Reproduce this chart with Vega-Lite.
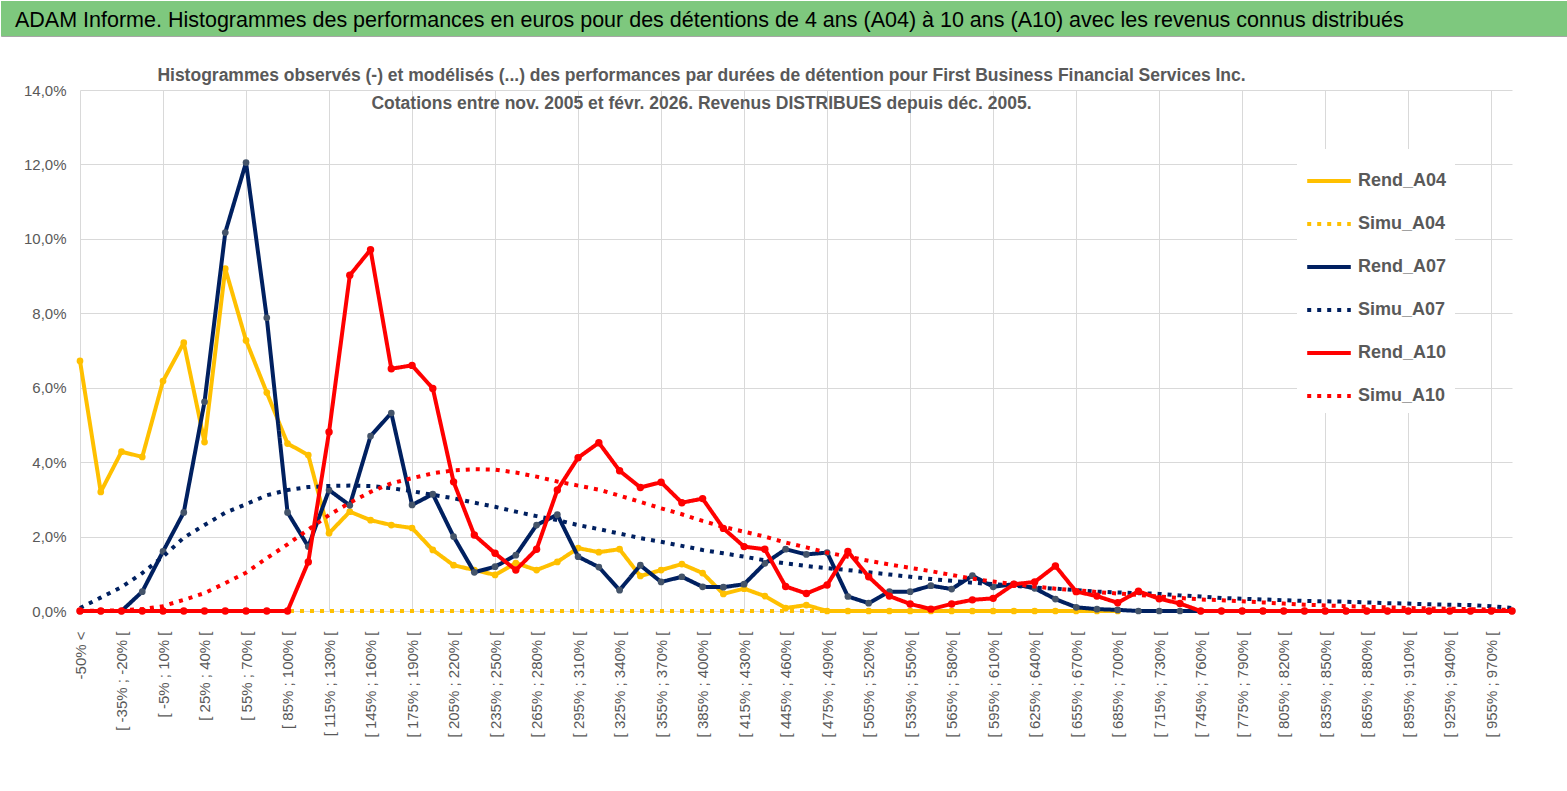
{
  "$schema": "https://vega.github.io/schema/vega-lite/v6.json",
  "padding": 0,
  "background": "white",
  "spacing": 29,
  "config": {
    "font": "Liberation Sans, sans-serif",
    "view": {"stroke": null}
  },
  "vconcat": [
    {
      "width": 1567,
      "height": 35,
      "view": {"fill": "#7EC87E", "stroke": "#A6A6A6"},
      "title": {
        "text": "ADAM Informe. Histogrammes des performances en euros pour des détentions de 4 ans (A04) à 10 ans (A10) avec les revenus connus distribués",
        "anchor": "start",
        "frame": "group",
        "offset": -30,
        "dx": 14,
        "fontSize": 21.5,
        "fontWeight": "normal",
        "color": "#000000"
      },
      "data": {"values": [{"bande": "titre"}]},
      "mark": {"type": "rect", "color": "#7EC87E"},
      "encoding": {}
    },
    {
      "width": 1567,
      "height": 521,
      "title": {
        "text": [
          "Histogrammes observés (-) et modélisés (...) des performances par durées de détention pour First Business Financial Services Inc.",
          "Cotations entre nov. 2005 et févr. 2026. Revenus DISTRIBUES depuis déc. 2005."
        ],
        "fontSize": 17.5,
        "fontWeight": "bold",
        "color": "#595959",
        "lineHeight": 28,
        "anchor": "middle",
        "dx": -83,
        "offset": -29
      },
      "data": {
        "values": [
          {"c": "-50% <", "Rend_A04": 6.72, "Simu_A04": 0, "Rend_A07": 0, "Simu_A07": 0.08, "Rend_A10": 0, "Simu_A10": 0},
          {"c": "[ -50% ; -35% [", "Rend_A04": 3.2, "Simu_A04": 0, "Rend_A07": 0, "Simu_A07": 0.36, "Rend_A10": 0, "Simu_A10": 0.01},
          {"c": "[ -35% ; -20% [", "Rend_A04": 4.28, "Simu_A04": 0, "Rend_A07": 0, "Simu_A07": 0.64, "Rend_A10": 0, "Simu_A10": 0.02},
          {"c": "[ -20% ; -5% [", "Rend_A04": 4.14, "Simu_A04": 0, "Rend_A07": 0.52, "Simu_A07": 1.02, "Rend_A10": 0, "Simu_A10": 0.05},
          {"c": "[ -5% ; 10% [", "Rend_A04": 6.18, "Simu_A04": 0, "Rend_A07": 1.6, "Simu_A07": 1.46, "Rend_A10": 0, "Simu_A10": 0.13},
          {"c": "[ 10% ; 25% [", "Rend_A04": 7.21, "Simu_A04": 0, "Rend_A07": 2.65, "Simu_A07": 1.97, "Rend_A10": 0, "Simu_A10": 0.3},
          {"c": "[ 25% ; 40% [", "Rend_A04": 4.54, "Simu_A04": 0, "Rend_A07": 5.62, "Simu_A07": 2.31, "Rend_A10": 0, "Simu_A10": 0.48},
          {"c": "[ 40% ; 55% [", "Rend_A04": 9.2, "Simu_A04": 0, "Rend_A07": 10.17, "Simu_A07": 2.64, "Rend_A10": 0, "Simu_A10": 0.75},
          {"c": "[ 55% ; 70% [", "Rend_A04": 7.27, "Simu_A04": 0, "Rend_A07": 12.05, "Simu_A07": 2.87, "Rend_A10": 0, "Simu_A10": 1.03},
          {"c": "[ 70% ; 85% [", "Rend_A04": 5.87, "Simu_A04": 0, "Rend_A07": 7.88, "Simu_A07": 3.11, "Rend_A10": 0, "Simu_A10": 1.42},
          {"c": "[ 85% ; 100% [", "Rend_A04": 4.5, "Simu_A04": 0, "Rend_A07": 2.65, "Simu_A07": 3.25, "Rend_A10": 0, "Simu_A10": 1.79},
          {"c": "[ 100% ; 115% [", "Rend_A04": 4.19, "Simu_A04": 0, "Rend_A07": 1.73, "Simu_A07": 3.33, "Rend_A10": 1.32, "Simu_A10": 2.19},
          {"c": "[ 115% ; 130% [", "Rend_A04": 2.09, "Simu_A04": 0, "Rend_A07": 3.25, "Simu_A07": 3.36, "Rend_A10": 4.81, "Simu_A10": 2.58},
          {"c": "[ 130% ; 145% [", "Rend_A04": 2.67, "Simu_A04": 0, "Rend_A07": 2.84, "Simu_A07": 3.37, "Rend_A10": 9.02, "Simu_A10": 2.91},
          {"c": "[ 145% ; 160% [", "Rend_A04": 2.44, "Simu_A04": 0, "Rend_A07": 4.7, "Simu_A07": 3.36, "Rend_A10": 9.71, "Simu_A10": 3.2},
          {"c": "[ 160% ; 175% [", "Rend_A04": 2.31, "Simu_A04": 0, "Rend_A07": 5.32, "Simu_A07": 3.3, "Rend_A10": 6.51, "Simu_A10": 3.43},
          {"c": "[ 175% ; 190% [", "Rend_A04": 2.23, "Simu_A04": 0, "Rend_A07": 2.85, "Simu_A07": 3.22, "Rend_A10": 6.6, "Simu_A10": 3.57},
          {"c": "[ 190% ; 205% [", "Rend_A04": 1.64, "Simu_A04": 0, "Rend_A07": 3.14, "Simu_A07": 3.12, "Rend_A10": 5.98, "Simu_A10": 3.7},
          {"c": "[ 205% ; 220% [", "Rend_A04": 1.23, "Simu_A04": 0, "Rend_A07": 2.0, "Simu_A07": 3.03, "Rend_A10": 3.47, "Simu_A10": 3.78},
          {"c": "[ 220% ; 235% [", "Rend_A04": 1.1, "Simu_A04": 0, "Rend_A07": 1.04, "Simu_A07": 2.91, "Rend_A10": 2.04, "Simu_A10": 3.81},
          {"c": "[ 235% ; 250% [", "Rend_A04": 0.97, "Simu_A04": 0, "Rend_A07": 1.19, "Simu_A07": 2.8, "Rend_A10": 1.55, "Simu_A10": 3.8},
          {"c": "[ 250% ; 265% [", "Rend_A04": 1.29, "Simu_A04": 0, "Rend_A07": 1.5, "Simu_A07": 2.67, "Rend_A10": 1.1, "Simu_A10": 3.72},
          {"c": "[ 265% ; 280% [", "Rend_A04": 1.1, "Simu_A04": 0, "Rend_A07": 2.31, "Simu_A07": 2.55, "Rend_A10": 1.66, "Simu_A10": 3.61},
          {"c": "[ 280% ; 295% [", "Rend_A04": 1.32, "Simu_A04": 0, "Rend_A07": 2.59, "Simu_A07": 2.44, "Rend_A10": 3.25, "Simu_A10": 3.48},
          {"c": "[ 295% ; 310% [", "Rend_A04": 1.69, "Simu_A04": 0, "Rend_A07": 1.46, "Simu_A07": 2.31, "Rend_A10": 4.12, "Simu_A10": 3.37},
          {"c": "[ 310% ; 325% [", "Rend_A04": 1.58, "Simu_A04": 0, "Rend_A07": 1.18, "Simu_A07": 2.2, "Rend_A10": 4.52, "Simu_A10": 3.26},
          {"c": "[ 325% ; 340% [", "Rend_A04": 1.66, "Simu_A04": 0, "Rend_A07": 0.56, "Simu_A07": 2.08, "Rend_A10": 3.77, "Simu_A10": 3.1},
          {"c": "[ 340% ; 355% [", "Rend_A04": 0.94, "Simu_A04": 0, "Rend_A07": 1.23, "Simu_A07": 1.96, "Rend_A10": 3.32, "Simu_A10": 2.93},
          {"c": "[ 355% ; 370% [", "Rend_A04": 1.1, "Simu_A04": 0, "Rend_A07": 0.78, "Simu_A07": 1.86, "Rend_A10": 3.46, "Simu_A10": 2.76},
          {"c": "[ 370% ; 385% [", "Rend_A04": 1.26, "Simu_A04": 0, "Rend_A07": 0.92, "Simu_A07": 1.75, "Rend_A10": 2.91, "Simu_A10": 2.6},
          {"c": "[ 385% ; 400% [", "Rend_A04": 1.02, "Simu_A04": 0, "Rend_A07": 0.65, "Simu_A07": 1.64, "Rend_A10": 3.02, "Simu_A10": 2.42},
          {"c": "[ 400% ; 415% [", "Rend_A04": 0.46, "Simu_A04": 0, "Rend_A07": 0.64, "Simu_A07": 1.55, "Rend_A10": 2.22, "Simu_A10": 2.26},
          {"c": "[ 415% ; 430% [", "Rend_A04": 0.6, "Simu_A04": 0, "Rend_A07": 0.72, "Simu_A07": 1.46, "Rend_A10": 1.73, "Simu_A10": 2.13},
          {"c": "[ 430% ; 445% [", "Rend_A04": 0.4, "Simu_A04": 0, "Rend_A07": 1.28, "Simu_A07": 1.36, "Rend_A10": 1.66, "Simu_A10": 2.0},
          {"c": "[ 445% ; 460% [", "Rend_A04": 0.08, "Simu_A04": 0, "Rend_A07": 1.66, "Simu_A07": 1.28, "Rend_A10": 0.66, "Simu_A10": 1.84},
          {"c": "[ 460% ; 475% [", "Rend_A04": 0.16, "Simu_A04": 0, "Rend_A07": 1.52, "Simu_A07": 1.21, "Rend_A10": 0.47, "Simu_A10": 1.71},
          {"c": "[ 475% ; 490% [", "Rend_A04": 0, "Simu_A04": 0, "Rend_A07": 1.57, "Simu_A07": 1.15, "Rend_A10": 0.7, "Simu_A10": 1.57},
          {"c": "[ 490% ; 505% [", "Rend_A04": 0, "Simu_A04": 0, "Rend_A07": 0.39, "Simu_A07": 1.1, "Rend_A10": 1.6, "Simu_A10": 1.46},
          {"c": "[ 505% ; 520% [", "Rend_A04": 0, "Simu_A04": 0, "Rend_A07": 0.21, "Simu_A07": 1.04, "Rend_A10": 0.92, "Simu_A10": 1.35},
          {"c": "[ 520% ; 535% [", "Rend_A04": 0, "Simu_A04": 0, "Rend_A07": 0.52, "Simu_A07": 0.98, "Rend_A10": 0.4, "Simu_A10": 1.25},
          {"c": "[ 535% ; 550% [", "Rend_A04": 0, "Simu_A04": 0, "Rend_A07": 0.52, "Simu_A07": 0.92, "Rend_A10": 0.19, "Simu_A10": 1.16},
          {"c": "[ 550% ; 565% [", "Rend_A04": 0, "Simu_A04": 0, "Rend_A07": 0.68, "Simu_A07": 0.86, "Rend_A10": 0.05, "Simu_A10": 1.07},
          {"c": "[ 565% ; 580% [", "Rend_A04": 0, "Simu_A04": 0, "Rend_A07": 0.59, "Simu_A07": 0.81, "Rend_A10": 0.19, "Simu_A10": 0.97},
          {"c": "[ 580% ; 595% [", "Rend_A04": 0, "Simu_A04": 0, "Rend_A07": 0.95, "Simu_A07": 0.76, "Rend_A10": 0.3, "Simu_A10": 0.87},
          {"c": "[ 595% ; 610% [", "Rend_A04": 0, "Simu_A04": 0, "Rend_A07": 0.65, "Simu_A07": 0.72, "Rend_A10": 0.34, "Simu_A10": 0.79},
          {"c": "[ 610% ; 625% [", "Rend_A04": 0, "Simu_A04": 0, "Rend_A07": 0.72, "Simu_A07": 0.68, "Rend_A10": 0.72, "Simu_A10": 0.72},
          {"c": "[ 625% ; 640% [", "Rend_A04": 0, "Simu_A04": 0, "Rend_A07": 0.61, "Simu_A07": 0.63, "Rend_A10": 0.78, "Simu_A10": 0.66},
          {"c": "[ 640% ; 655% [", "Rend_A04": 0, "Simu_A04": 0, "Rend_A07": 0.32, "Simu_A07": 0.6, "Rend_A10": 1.21, "Simu_A10": 0.6},
          {"c": "[ 655% ; 670% [", "Rend_A04": 0, "Simu_A04": 0, "Rend_A07": 0.1, "Simu_A07": 0.56, "Rend_A10": 0.52, "Simu_A10": 0.56},
          {"c": "[ 670% ; 685% [", "Rend_A04": 0, "Simu_A04": 0, "Rend_A07": 0.05, "Simu_A07": 0.52, "Rend_A10": 0.4, "Simu_A10": 0.51},
          {"c": "[ 685% ; 700% [", "Rend_A04": 0, "Simu_A04": 0, "Rend_A07": 0.03, "Simu_A07": 0.5, "Rend_A10": 0.22, "Simu_A10": 0.47},
          {"c": "[ 700% ; 715% [", "Rend_A07": 0, "Simu_A07": 0.48, "Rend_A10": 0.53, "Simu_A10": 0.43},
          {"c": "[ 715% ; 730% [", "Rend_A07": 0, "Simu_A07": 0.46, "Rend_A10": 0.33, "Simu_A10": 0.39},
          {"c": "[ 730% ; 745% [", "Rend_A07": 0, "Simu_A07": 0.42, "Rend_A10": 0.2, "Simu_A10": 0.35},
          {"c": "[ 745% ; 760% [", "Rend_A07": 0, "Simu_A07": 0.39, "Rend_A10": 0, "Simu_A10": 0.31},
          {"c": "[ 760% ; 775% [", "Rend_A07": 0, "Simu_A07": 0.35, "Rend_A10": 0, "Simu_A10": 0.29},
          {"c": "[ 775% ; 790% [", "Rend_A07": 0, "Simu_A07": 0.33, "Rend_A10": 0, "Simu_A10": 0.26},
          {"c": "[ 790% ; 805% [", "Rend_A07": 0, "Simu_A07": 0.31, "Rend_A10": 0, "Simu_A10": 0.23},
          {"c": "[ 805% ; 820% [", "Rend_A07": 0, "Simu_A07": 0.29, "Rend_A10": 0, "Simu_A10": 0.2},
          {"c": "[ 820% ; 835% [", "Rend_A07": 0, "Simu_A07": 0.27, "Rend_A10": 0, "Simu_A10": 0.17},
          {"c": "[ 835% ; 850% [", "Rend_A07": 0, "Simu_A07": 0.26, "Rend_A10": 0, "Simu_A10": 0.15},
          {"c": "[ 850% ; 865% [", "Rend_A07": 0, "Simu_A07": 0.25, "Rend_A10": 0, "Simu_A10": 0.13},
          {"c": "[ 865% ; 880% [", "Rend_A07": 0, "Simu_A07": 0.23, "Rend_A10": 0, "Simu_A10": 0.11},
          {"c": "[ 880% ; 895% [", "Rend_A07": 0, "Simu_A07": 0.21, "Rend_A10": 0, "Simu_A10": 0.1},
          {"c": "[ 895% ; 910% [", "Rend_A07": 0, "Simu_A07": 0.2, "Rend_A10": 0, "Simu_A10": 0.08},
          {"c": "[ 910% ; 925% [", "Rend_A07": 0, "Simu_A07": 0.18, "Rend_A10": 0, "Simu_A10": 0.07},
          {"c": "[ 925% ; 940% [", "Rend_A07": 0, "Simu_A07": 0.17, "Rend_A10": 0, "Simu_A10": 0.06},
          {"c": "[ 940% ; 955% [", "Rend_A07": 0, "Simu_A07": 0.16, "Rend_A10": 0, "Simu_A10": 0.05},
          {"c": "[ 955% ; 970% [", "Rend_A07": 0, "Simu_A07": 0.13, "Rend_A10": 0, "Simu_A10": 0.04},
          {"c": "[ 970% ; 985% [", "Rend_A07": 0, "Simu_A07": 0.08, "Rend_A10": 0, "Simu_A10": 0.03}
        ]
      },
      "transform": [
        {"fold": ["Rend_A04", "Simu_A04", "Rend_A07", "Simu_A07", "Rend_A10", "Simu_A10"], "as": ["serie", "v"]},
        {"filter": "isValid(datum.v)"}
      ],
      "encoding": {
        "x": {
          "field": "c",
          "type": "nominal",
          "scale": {
            "type": "point",
            "padding": 0,
            "range": [79, 1511],
            "domain": ["-50% <", "[ -50% ; -35% [", "[ -35% ; -20% [", "[ -20% ; -5% [", "[ -5% ; 10% [", "[ 10% ; 25% [", "[ 25% ; 40% [", "[ 40% ; 55% [", "[ 55% ; 70% [", "[ 70% ; 85% [", "[ 85% ; 100% [", "[ 100% ; 115% [", "[ 115% ; 130% [", "[ 130% ; 145% [", "[ 145% ; 160% [", "[ 160% ; 175% [", "[ 175% ; 190% [", "[ 190% ; 205% [", "[ 205% ; 220% [", "[ 220% ; 235% [", "[ 235% ; 250% [", "[ 250% ; 265% [", "[ 265% ; 280% [", "[ 280% ; 295% [", "[ 295% ; 310% [", "[ 310% ; 325% [", "[ 325% ; 340% [", "[ 340% ; 355% [", "[ 355% ; 370% [", "[ 370% ; 385% [", "[ 385% ; 400% [", "[ 400% ; 415% [", "[ 415% ; 430% [", "[ 430% ; 445% [", "[ 445% ; 460% [", "[ 460% ; 475% [", "[ 475% ; 490% [", "[ 490% ; 505% [", "[ 505% ; 520% [", "[ 520% ; 535% [", "[ 535% ; 550% [", "[ 550% ; 565% [", "[ 565% ; 580% [", "[ 580% ; 595% [", "[ 595% ; 610% [", "[ 610% ; 625% [", "[ 625% ; 640% [", "[ 640% ; 655% [", "[ 655% ; 670% [", "[ 670% ; 685% [", "[ 685% ; 700% [", "[ 700% ; 715% [", "[ 715% ; 730% [", "[ 730% ; 745% [", "[ 745% ; 760% [", "[ 760% ; 775% [", "[ 775% ; 790% [", "[ 790% ; 805% [", "[ 805% ; 820% [", "[ 820% ; 835% [", "[ 835% ; 850% [", "[ 850% ; 865% [", "[ 865% ; 880% [", "[ 880% ; 895% [", "[ 895% ; 910% [", "[ 910% ; 925% [", "[ 925% ; 940% [", "[ 940% ; 955% [", "[ 955% ; 970% [", "[ 970% ; 985% ["]
          },
          "axis": {
            "title": null,
            "values": ["-50% <", "[ -35% ; -20% [", "[ -5% ; 10% [", "[ 25% ; 40% [", "[ 55% ; 70% [", "[ 85% ; 100% [", "[ 115% ; 130% [", "[ 145% ; 160% [", "[ 175% ; 190% [", "[ 205% ; 220% [", "[ 235% ; 250% [", "[ 265% ; 280% [", "[ 295% ; 310% [", "[ 325% ; 340% [", "[ 355% ; 370% [", "[ 385% ; 400% [", "[ 415% ; 430% [", "[ 445% ; 460% [", "[ 475% ; 490% [", "[ 505% ; 520% [", "[ 535% ; 550% [", "[ 565% ; 580% [", "[ 595% ; 610% [", "[ 625% ; 640% [", "[ 655% ; 670% [", "[ 685% ; 700% [", "[ 715% ; 730% [", "[ 745% ; 760% [", "[ 775% ; 790% [", "[ 805% ; 820% [", "[ 835% ; 850% [", "[ 865% ; 880% [", "[ 895% ; 910% [", "[ 925% ; 940% [", "[ 955% ; 970% ["],
            "labelAngle": -90,
            "labelFontSize": 15,
            "labelColor": "#595959",
            "labelPadding": 20,
            "labelOverlap": false,
            "ticks": false,
            "domain": false,
            "grid": true,
            "gridColor": "#D9D9D9",
            "gridOpacity": {
              "condition": {
                "test": "indexof(['-50% <', '[ -5% ; 10% [', '[ 55% ; 70% [', '[ 115% ; 130% [', '[ 175% ; 190% [', '[ 235% ; 250% [', '[ 295% ; 310% [', '[ 355% ; 370% [', '[ 415% ; 430% [', '[ 475% ; 490% [', '[ 535% ; 550% [', '[ 595% ; 610% [', '[ 655% ; 670% [', '[ 715% ; 730% [', '[ 775% ; 790% [', '[ 835% ; 850% [', '[ 895% ; 910% [', '[ 955% ; 970% ['], datum.value) >= 0",
                "value": 1
              },
              "value": 0
            }
          }
        },
        "y": {
          "field": "v",
          "type": "quantitative",
          "scale": {"domain": [0, 14], "nice": false},
          "axis": {
            "title": null,
            "values": [0, 2, 4, 6, 8, 10, 12, 14],
            "labelExpr": "replace(format(datum.value, '.1f'), '.', ',') + '%'",
            "labelFontSize": 15,
            "labelColor": "#595959",
            "labelPadding": 14,
            "offset": -79,
            "ticks": false,
            "domain": false,
            "gridColor": "#D9D9D9"
          }
        }
      },
      "layer": [
        {
          "transform": [{"filter": "datum.serie == 'Rend_A04'"}],
          "mark": {"type": "line", "strokeWidth": 4, "strokeJoin": "round"},
          "encoding": {
            "color": {
              "field": "serie",
              "type": "nominal",
              "scale": {
                "domain": ["Rend_A04", "Simu_A04", "Rend_A07", "Simu_A07", "Rend_A10", "Simu_A10"],
                "range": ["#FFC000", "#FFC000", "#002060", "#002060", "#FF0000", "#FF0000"]
              },
              "legend": {
                "title": null,
                "orient": "none",
                "legendX": 1296,
                "legendY": 148,
                "symbolType": "stroke",
                "symbolSize": 1900,
                "symbolStrokeWidth": 4,
                "labelFontSize": 18,
                "labelFontWeight": "bold",
                "labelColor": "#595959",
                "labelOffset": 5,
                "labelLimit": 300,
                "rowPadding": 10,
                "padding": 8,
                "fillColor": "white"
              }
            },
            "strokeDash": {
              "field": "serie",
              "type": "nominal",
              "scale": {
                "domain": ["Rend_A04", "Simu_A04", "Rend_A07", "Simu_A07", "Rend_A10", "Simu_A10"],
                "range": [[1, 0], [4, 6], [1, 0], [4, 6], [1, 0], [4, 6]]
              }
            },
            "order": {"value": null}
          }
        },
        {
          "transform": [{"filter": "datum.serie == 'Rend_A04'"}],
          "mark": {"type": "circle", "size": 45, "opacity": 1},
          "encoding": {
            "fill": {
              "field": "serie",
              "type": "nominal",
              "scale": {"domain": ["Rend_A04", "Rend_A07", "Rend_A10"], "range": ["#FFC000", "#44546A", "#FF0000"]},
              "legend": null
            }
          }
        },
        {
          "transform": [{"filter": "datum.serie == 'Simu_A04'"}],
          "mark": {"type": "line", "strokeWidth": 4},
          "encoding": {
            "color": {"field": "serie", "type": "nominal"},
            "strokeDash": {"field": "serie", "type": "nominal"},
            "order": {"value": null}
          }
        },
        {
          "transform": [{"filter": "datum.serie == 'Rend_A07'"}],
          "mark": {"type": "line", "strokeWidth": 4, "strokeJoin": "round"},
          "encoding": {
            "color": {"field": "serie", "type": "nominal"},
            "strokeDash": {"field": "serie", "type": "nominal"},
            "order": {"value": null}
          }
        },
        {
          "transform": [{"filter": "datum.serie == 'Rend_A07'"}],
          "mark": {"type": "circle", "size": 45, "opacity": 1},
          "encoding": {"fill": {"field": "serie", "type": "nominal", "legend": null}}
        },
        {
          "transform": [{"filter": "datum.serie == 'Simu_A07'"}],
          "mark": {"type": "line", "strokeWidth": 4},
          "encoding": {
            "color": {"field": "serie", "type": "nominal"},
            "strokeDash": {"field": "serie", "type": "nominal"},
            "order": {"value": null}
          }
        },
        {
          "transform": [{"filter": "datum.serie == 'Rend_A10'"}],
          "mark": {"type": "line", "strokeWidth": 4, "strokeJoin": "round"},
          "encoding": {
            "color": {"field": "serie", "type": "nominal"},
            "strokeDash": {"field": "serie", "type": "nominal"},
            "order": {"value": null}
          }
        },
        {
          "transform": [{"filter": "datum.serie == 'Rend_A10'"}],
          "mark": {"type": "circle", "size": 55, "opacity": 1},
          "encoding": {"fill": {"field": "serie", "type": "nominal", "legend": null}}
        },
        {
          "transform": [{"filter": "datum.serie == 'Simu_A10'"}],
          "mark": {"type": "line", "strokeWidth": 4},
          "encoding": {
            "color": {"field": "serie", "type": "nominal"},
            "strokeDash": {"field": "serie", "type": "nominal"},
            "order": {"value": null}
          }
        }
      ]
    }
  ]
}
